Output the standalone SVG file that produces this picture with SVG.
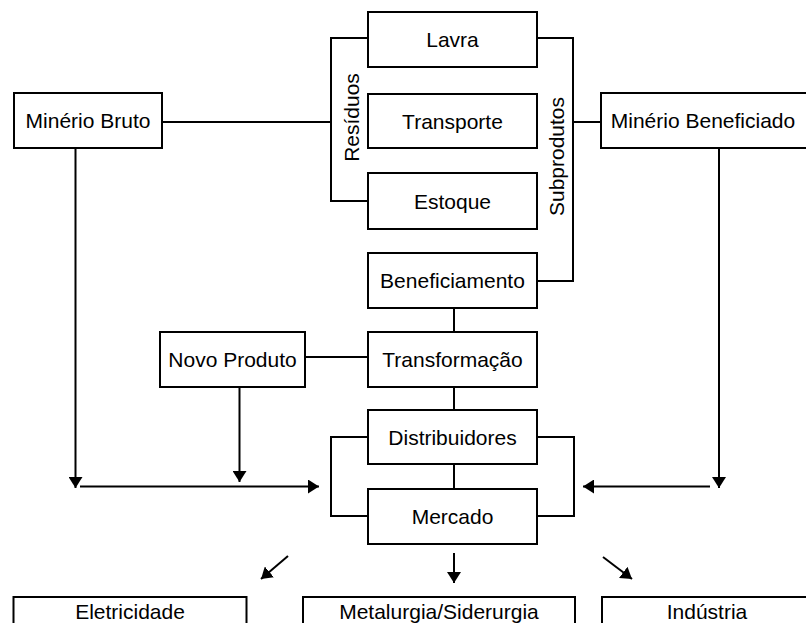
<svg xmlns="http://www.w3.org/2000/svg" width="806" height="623" viewBox="0 0 806 623">
<style>
.box{fill:#fff;stroke:#000;stroke-width:2}
.lbl{font-family:"Liberation Sans",Arial,sans-serif;font-size:21px;fill:#000;text-anchor:middle}
.ln{fill:none;stroke:#000;stroke-width:2}
.ar{fill:none;stroke:#000;stroke-width:2;marker-end:url(#ah)}
</style>
<defs>
<marker id="ah" viewBox="0 0 11 14" refX="11" refY="7" markerWidth="11" markerHeight="14" orient="auto" markerUnits="userSpaceOnUse">
<path d="M0,0 L11,7 L0,14 z" fill="#000"/>
</marker>
</defs>
<rect width="806" height="623" fill="#fff"/>
<g id="connectors">
<line class="ln" x1="162" y1="122" x2="331" y2="122"/>
<polyline class="ln" points="368,38 331,38 331,201 368,201"/>
<polyline class="ln" points="537,38 573,38 573,281 537,281"/>
<line class="ln" x1="573" y1="122" x2="601" y2="122"/>
<line class="ln" x1="454" y1="308" x2="454" y2="332"/>
<line class="ln" x1="454" y1="387" x2="454" y2="410"/>
<line class="ln" x1="454" y1="464" x2="454" y2="489"/>
<line class="ln" x1="305" y1="357" x2="368" y2="357"/>
<polyline class="ln" points="368,437 331,437 331,516 368,516"/>
<polyline class="ln" points="537,437 574,437 574,516 537,516"/>
<line class="ar" x1="75.5" y1="148" x2="75.5" y2="488"/>
<line class="ar" x1="239.5" y1="387" x2="239.5" y2="482"/>
<line class="ar" x1="80" y1="486.5" x2="319" y2="486.5"/>
<line class="ar" x1="719" y1="148" x2="719" y2="488"/>
<line class="ar" x1="710" y1="486.5" x2="583" y2="486.5"/>
<line class="ar" x1="454" y1="553" x2="454" y2="583"/>
<line class="ar" x1="288" y1="556" x2="261" y2="579"/>
<line class="ar" x1="603" y1="557" x2="632" y2="579"/>
</g>
<g id="minerio-bruto"><rect class="box" x="14" y="93" width="148" height="55"/><text class="lbl" x="88" y="128">Minério Bruto</text></g>
<g id="lavra"><rect class="box" x="368" y="12" width="169" height="55"/><text class="lbl" x="452.5" y="47">Lavra</text></g>
<g id="transporte"><rect class="box" x="368" y="94" width="169" height="54"/><text class="lbl" x="452.5" y="128.5">Transporte</text></g>
<g id="estoque"><rect class="box" x="368" y="173" width="169" height="56"/><text class="lbl" x="452.5" y="208.5">Estoque</text></g>
<g id="residuos"><text class="lbl" transform="translate(358.5,117.5) rotate(-90)">Resíduos</text></g>
<g id="subprodutos"><text class="lbl" transform="translate(563.5,156.5) rotate(-90)">Subprodutos</text></g>
<g id="minerio-beneficiado"><rect class="box" x="601" y="93" width="210" height="55"/><text class="lbl" x="703" y="128">Minério Beneficiado</text></g>
<g id="beneficiamento"><rect class="box" x="368" y="253" width="169" height="55"/><text class="lbl" x="452.5" y="288">Beneficiamento</text></g>
<g id="novo-produto"><rect class="box" x="160" y="332" width="145" height="55"/><text class="lbl" x="232.5" y="367">Novo Produto</text></g>
<g id="transformacao"><rect class="box" x="368" y="332" width="169" height="55"/><text class="lbl" x="452.5" y="367">Transformação</text></g>
<g id="distribuidores"><rect class="box" x="368" y="410" width="169" height="54"/><text class="lbl" x="452.5" y="444.5">Distribuidores</text></g>
<g id="mercado"><rect class="box" x="368" y="489" width="169" height="55"/><text class="lbl" x="452.5" y="524">Mercado</text></g>
<g id="eletricidade"><rect class="box" x="13.5" y="597" width="233" height="55"/><text class="lbl" x="130" y="619">Eletricidade</text></g>
<g id="metalurgia"><rect class="box" x="303" y="597" width="272" height="55"/><text class="lbl" x="439" y="619">Metalurgia/Siderurgia</text></g>
<g id="industria"><rect class="box" x="602" y="597" width="210" height="55"/><text class="lbl" x="707" y="619">Indústria</text></g>
</svg>
